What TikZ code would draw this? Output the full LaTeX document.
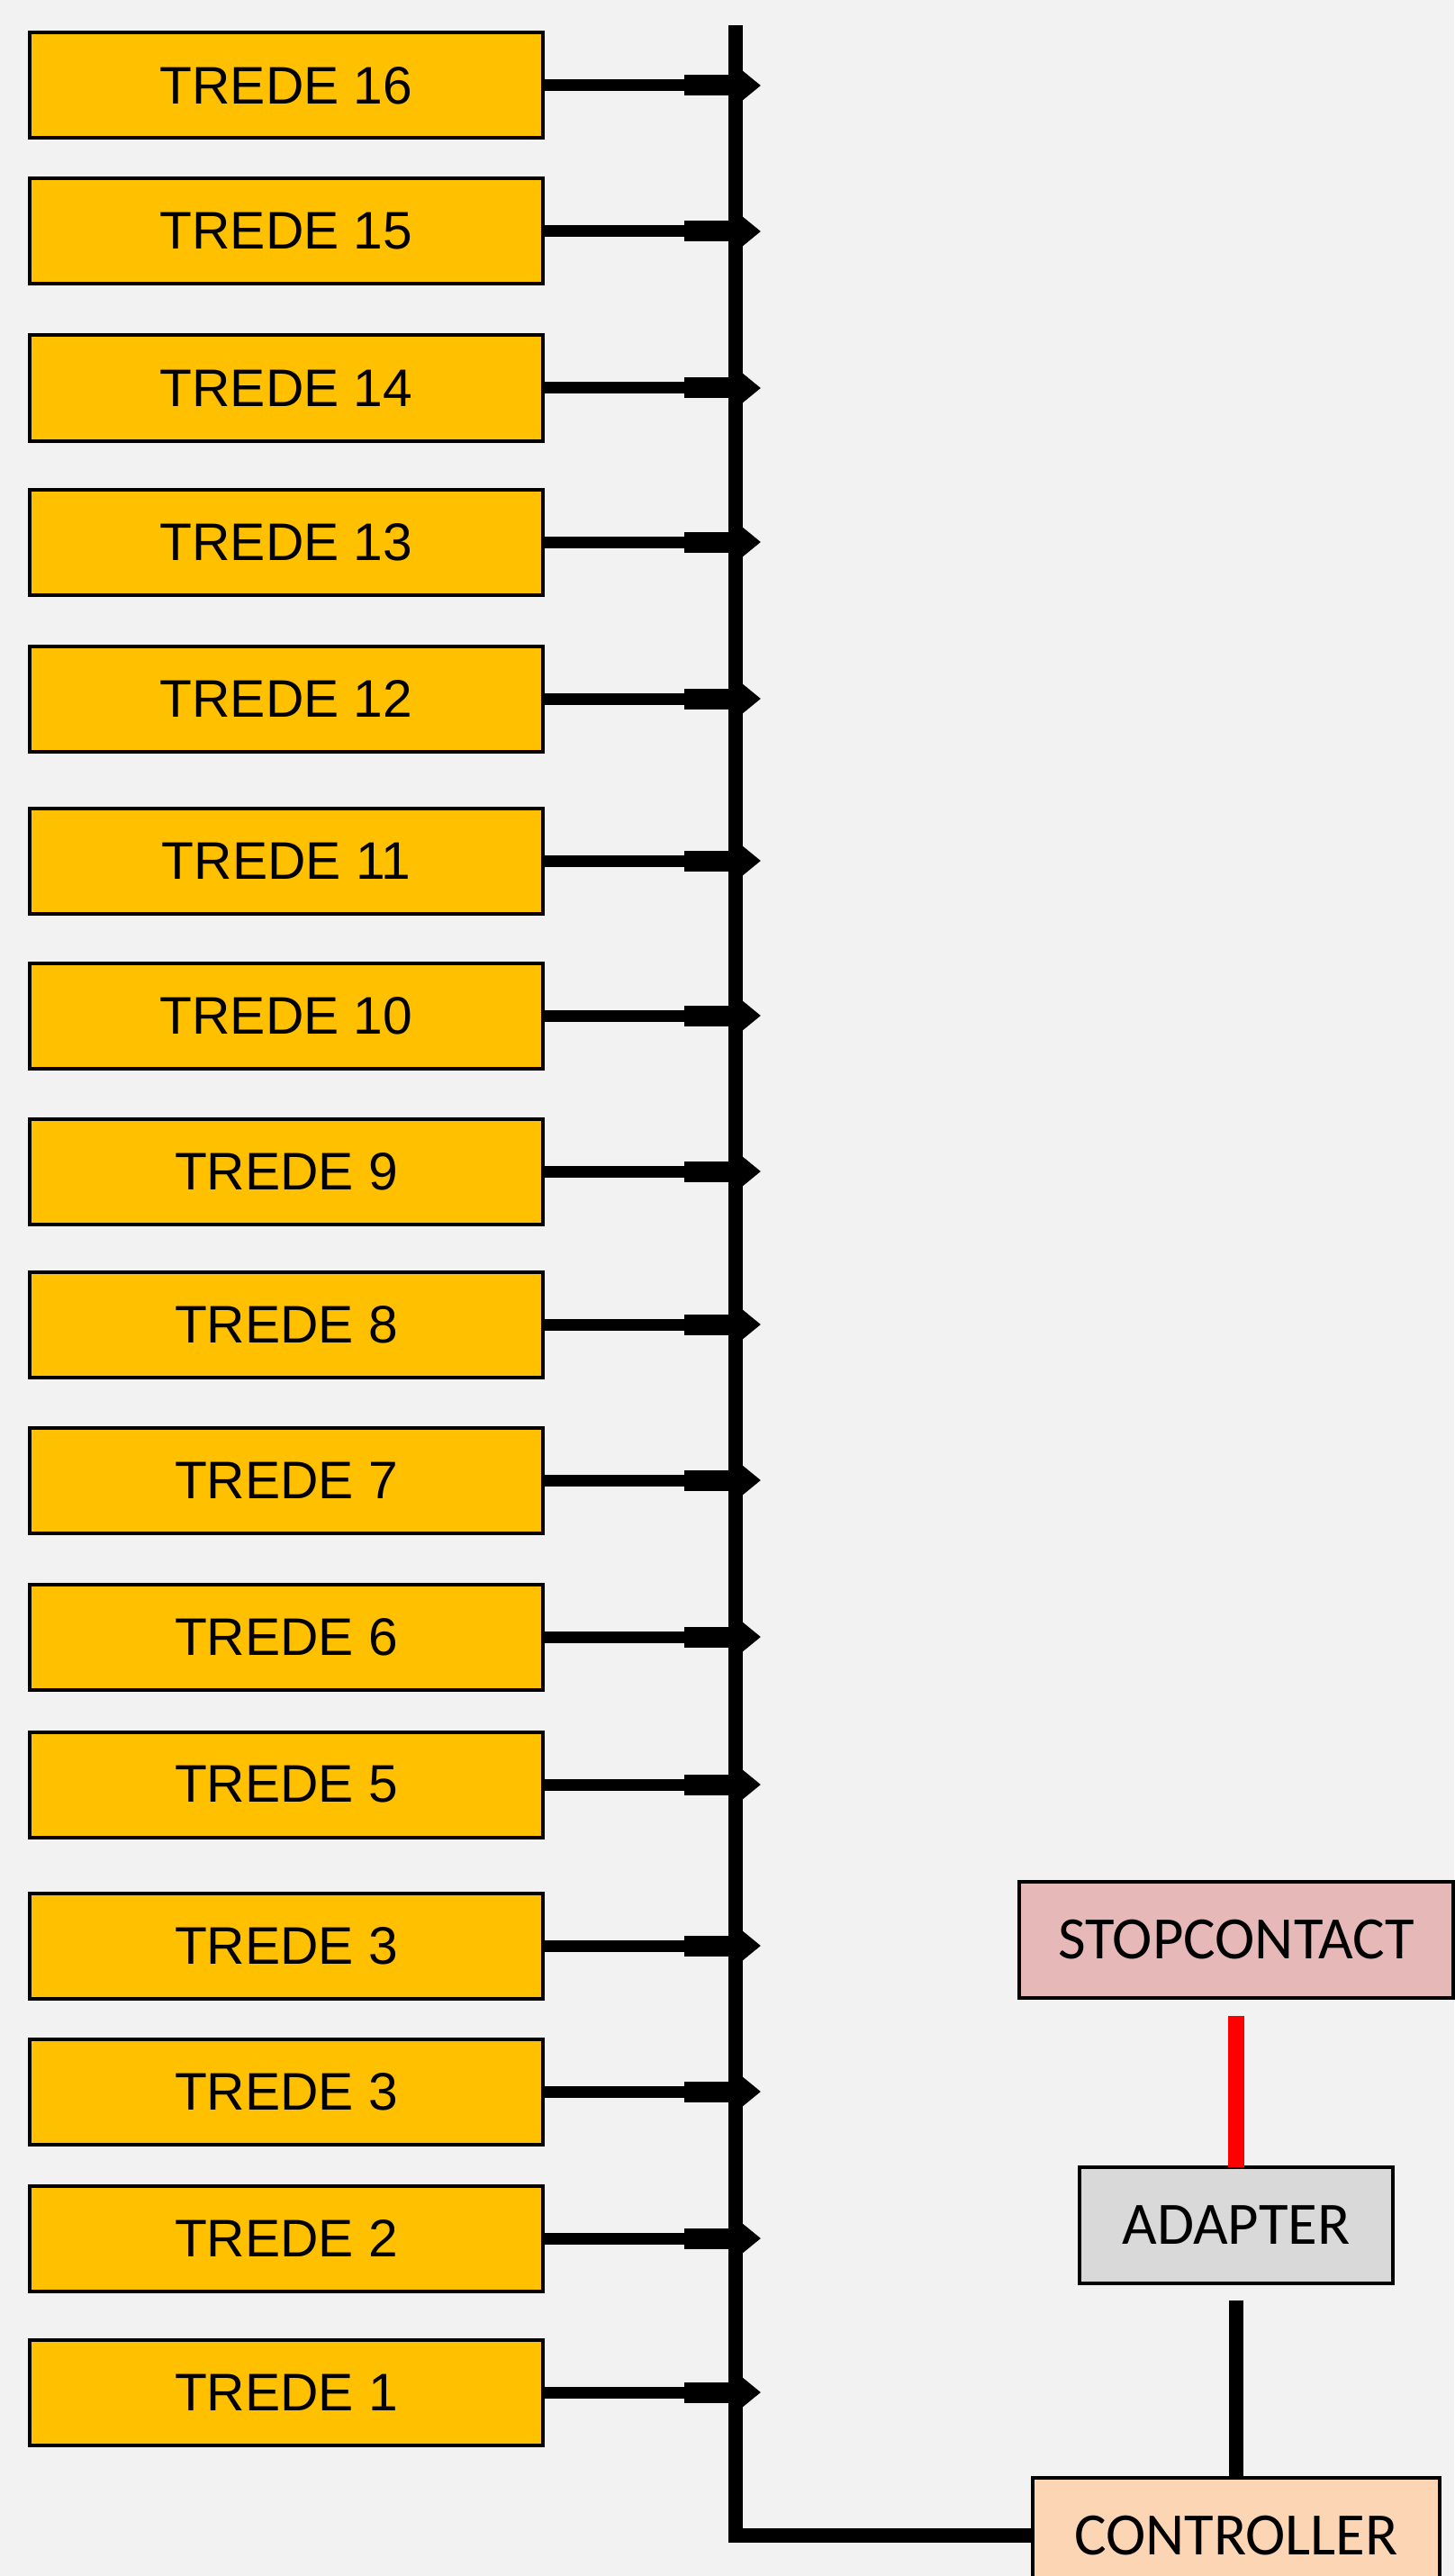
\documentclass[tikz,border=0pt]{standalone}
\usepackage{fontspec}
\setmainfont{Liberation Sans}
\newfontfamily\calibri{Carlito}
\usepackage{xcolor}
\usepackage{tikz}
\usetikzlibrary{positioning, arrows.meta}
\definecolor{paper}{HTML}{F2F2F2}
\definecolor{tredegold}{HTML}{FFC000}
\definecolor{socketpink}{HTML}{E6B9B8}
\definecolor{adaptergray}{HTML}{D9D9D9}
\definecolor{controlpeach}{HTML}{FCD5B5}
\tikzstyle{trede} = [rectangle, minimum width=57mm, minimum height=11.7mm, inner sep=0pt, outer sep=0pt, text centered, draw=black, line width=0.4mm, fill=tredegold, font=\fontsize{16.7}{20}\selectfont]
\tikzstyle{device} = [rectangle, minimum height=12.9mm, inner sep=0pt, outer sep=0pt, text centered, draw=black, line width=0.4mm, font=\calibri\fontsize{19}{23}\selectfont]
\tikzstyle{wire} = [line width=1.3mm, -{Triangle[length=3.2mm, width=5mm]}]
\tikzstyle{stub} = [line width=2.3mm, shorten <=15.7mm]
\tikzstyle{bus} = [line width=1.6mm, line join=miter]
\tikzstyle{power} = [line width=1.8mm, red, shorten <=2mm]
\tikzstyle{feed} = [line width=1.6mm, shorten <=1.9mm]

\begin{document}
\begin{tikzpicture}
		\fill [paper] (0,0) rectangle (161.5mm,-286.1mm);
		\useasboundingbox (0,0) rectangle (161.5mm,-286.1mm);
		\coordinate (bustop) at (81.7mm,-2.8mm);
		\coordinate (tip) at (84.5mm,-2.8mm);
		% steps
		\node (T16)[trede] at (31.8mm,-9.5mm) {TREDE 16};
		\node (T15)[trede, below = 4.5mm of T16]{TREDE 15};
		\node (T14)[trede, below = 5.7mm of T15]{TREDE 14};
		\node (T13)[trede, below = 5.4mm of T14]{TREDE 13};
		\node (T12)[trede, below = 5.7mm of T13]{TREDE 12};
		\node (T11)[trede, below = 6.3mm of T12]{TREDE 11};
		\node (T10)[trede, below = 5.5mm of T11]{TREDE 10};
		\node (T9)[trede, below = 5.6mm of T10]{TREDE 9};
		\node (T8)[trede, below = 5.3mm of T9]{TREDE 8};
		\node (T7)[trede, below = 5.6mm of T8]{TREDE 7};
		\node (T6)[trede, below = 5.7mm of T7]{TREDE 6};
		\node (T5)[trede, below = 4.7mm of T6]{TREDE 5};
		\node (T4)[trede, below = 6.2mm of T5]{TREDE 3};
		\node (T3)[trede, below = 4.5mm of T4]{TREDE 3};
		\node (T2)[trede, below = 4.6mm of T3]{TREDE 2};
		\node (T1)[trede, below = 5.4mm of T2]{TREDE 1};
		% power side
		\node (STOPCONTACT)[device, minimum width=48.2mm, fill=socketpink] at (137.3mm,-215.4mm) {STOPCONTACT};
		\node (ADAPTER)[device, minimum width=34.8mm, fill=adaptergray, below = 18.8mm of STOPCONTACT]{ADAPTER};
		\node (CONTROLLER)[device, minimum width=45.2mm, fill=controlpeach, below = 21.6mm of ADAPTER]{CONTROLLER};
		\draw [power] (STOPCONTACT.south) -- (ADAPTER.north);
		\draw [feed] (ADAPTER.south) -- (CONTROLLER.north);
		% links to the bus
		\foreach \t in {T1,T2,T3,T4,T5,T6,T7,T8,T9,T10,T11,T12,T13,T14,T15,T16}
		{
			\draw [wire] (\t.east) -- (\t.east -| tip);
			\draw [stub] (\t.east) -- (\t.east -| bustop);
		}
		\draw [bus] (bustop) |- (CONTROLLER.west);
	\end{tikzpicture}
\end{document}
